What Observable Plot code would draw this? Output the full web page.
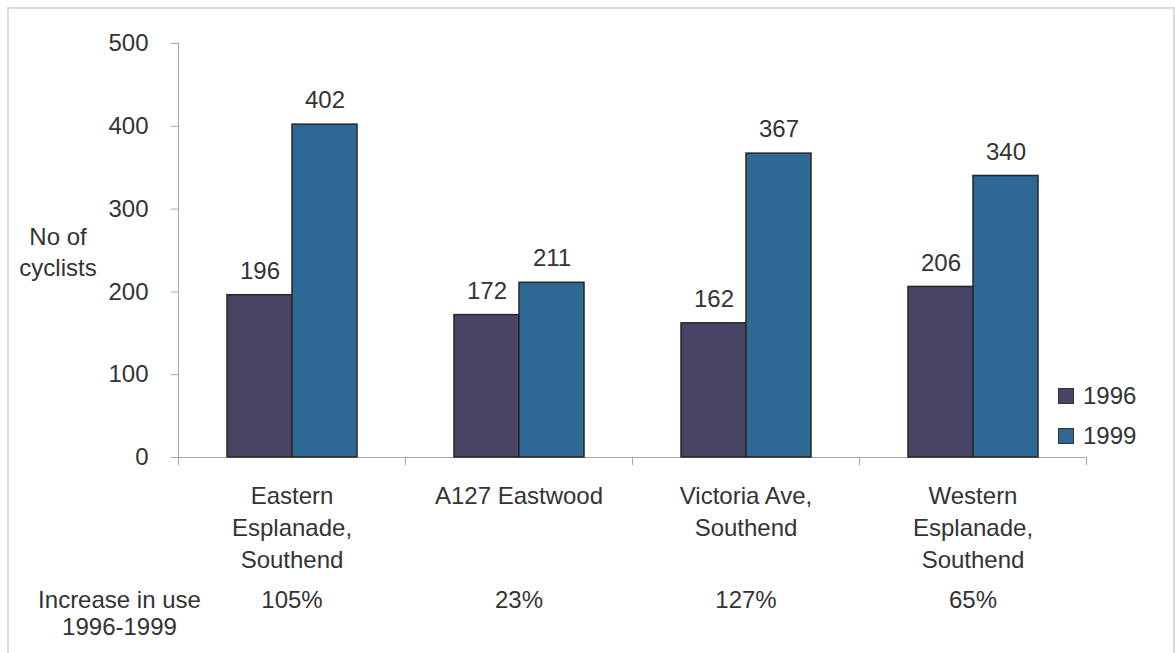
<!DOCTYPE html>
<html>
<head>
<meta charset="utf-8">
<script src="https://cdn.jsdelivr.net/npm/d3@7"></script>
<script src="https://cdn.jsdelivr.net/npm/@observablehq/plot@0.6"></script>
<style>
  html, body { margin: 0; padding: 0; background: #fff; overflow: hidden; }
  #wrap { position: relative; width: 1175px; height: 653px; font-family: "Liberation Sans", Arial, sans-serif; color: #333; }
  #border { position: absolute; left: 7px; top: 7px; width: 1168px; height: 700px; box-sizing: border-box; border: 2px solid #dcdcdc; }
  .lbl { position: absolute; font-size: 24px; text-align: center; }
  .leg { position: absolute; left: 1058px; display: flex; align-items: center; font-size: 24px; line-height: 28px; }
  .sw { width: 16px; height: 16px; box-sizing: border-box; border: 1px solid #333; margin-right: 9px; }
  svg { position: absolute; left: 0; top: 0; }
</style>
</head>
<body>
<div id="wrap">
  <div id="border"></div>
</div>
<script>
const sites = ["Eastern Esplanade, Southend", "A127 Eastwood", "Victoria Ave, Southend", "Western Esplanade, Southend"];
const siteLabels = ["Eastern\nEsplanade,\nSouthend", "A127 Eastwood", "Victoria Ave,\nSouthend", "Western\nEsplanade,\nSouthend"];
const years = ["1996", "1999"];
const counts1996 = [196, 172, 162, 206];
const counts1999 = [402, 211, 367, 340];
const increase = ["105%", "23%", "127%", "65%"];
const yTicks = [0, 100, 200, 300, 400, 500];
const yLabel = ["No of", "cyclists"];
const increaseLabel = ["Increase in use", "1996-1999"];
const yearColors = ["#4a4464", "#2e6895"];

const rows = sites.flatMap((s, i) => [
  {site: s, year: years[0], value: counts1996[i]},
  {site: s, year: years[1], value: counts1999[i]}
]);
const pctRows = sites.map((s, i) => ({site: s, pct: increase[i]}));

const W = 1175, H = 653, mT = 43, mB = 196, mL = 178, mR = 89;
const plotH = H - mT - mB;
const axisGray = "#a6a6a6";

const chart = Plot.plot({
  width: W,
  height: H,
  marginTop: mT,
  marginBottom: mB,
  marginLeft: mL,
  marginRight: mR,
  style: {fontFamily: "'Liberation Sans', Arial, sans-serif", fontSize: "24px", color: "#333", background: "transparent", overflow: "visible"},
  fx: {domain: sites, padding: 0, label: null},
  x: {domain: years, paddingInner: 0, paddingOuter: 0.746, axis: null},
  y: {domain: [0, 500], label: null},
  color: {domain: years, range: yearColors},
  marks: [
    Plot.axisY({ticks: yTicks, tickSize: 7, tickPadding: 23, stroke: axisGray, fill: "#333", fontSize: 24, label: null}),
    Plot.frame({anchor: "left", facetAnchor: "left", stroke: axisGray, insetBottom: -7}),
    Plot.axisFx({anchor: "bottom", tickSize: 0, tickPadding: 23, fontSize: 24, lineHeight: 1.35, fill: "#333",
      tickFormat: d => siteLabels[sites.indexOf(d)], label: null}),
    Plot.ruleY([0], {stroke: axisGray}),
    Plot.frame({anchor: "left", stroke: axisGray, insetTop: plotH, insetBottom: -7}),
    Plot.frame({anchor: "right", stroke: axisGray, insetTop: plotH, insetBottom: -7}),
    Plot.barY(rows, {fx: "site", x: "year", y: "value", fill: "year", stroke: "#262626", strokeWidth: 1.5}),
    Plot.text(rows, {fx: "site", x: "year", y: "value", text: d => String(d.value), dy: -24, lineAnchor: "middle", fontSize: 24, fill: "#333"}),
    Plot.text(pctRows, {fx: "site", text: "pct", frameAnchor: "bottom", dy: 143, lineAnchor: "middle", fontSize: 24, fill: "#333"})
  ]
});

const wrap = document.getElementById("wrap");
wrap.appendChild(chart);

const yl = document.createElement("div");
yl.className = "lbl";
yl.style.cssText = "left:0;width:116px;top:221px;line-height:31px;";
yl.innerHTML = yLabel.join("<br>");
wrap.appendChild(yl);

const il = document.createElement("div");
il.className = "lbl";
il.style.cssText = "left:0;width:239px;top:586px;line-height:27px;";
il.innerHTML = increaseLabel.join("<br>");
wrap.appendChild(il);

years.forEach((y, i) => {
  const d = document.createElement("div");
  d.className = "leg";
  d.style.top = (382 + i * 40) + "px";
  d.innerHTML = `<div class="sw" style="background:${yearColors[i]}"></div><span>${y}</span>`;
  wrap.appendChild(d);
});
</script>
</body>
</html>
